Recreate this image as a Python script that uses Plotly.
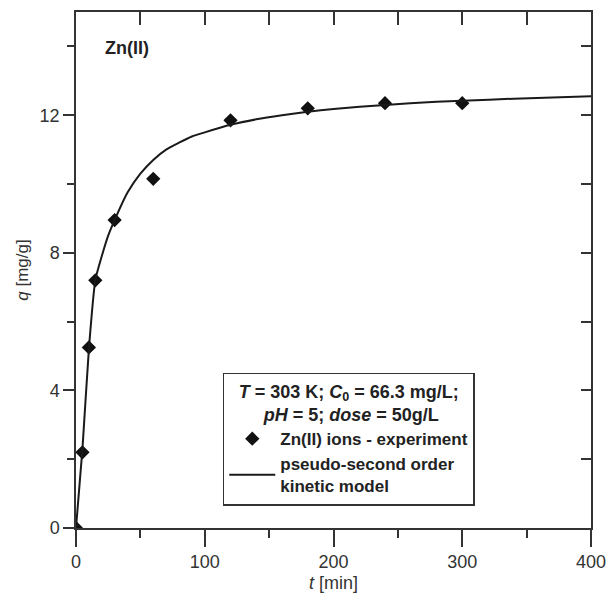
import plotly.graph_objects as go

# experimental data
t_exp = [0, 5, 10, 15, 30, 60, 120, 180, 240, 300]
q_exp = [0, 2.2, 5.25, 7.2, 8.95, 10.15, 11.85, 12.2, 12.35, 12.35]

# pseudo-second order model curve
t_model = [0, 5, 10, 15, 20, 25, 30, 40, 50, 60, 70, 80, 90, 100, 120, 140, 160, 180, 200, 240, 280, 300, 340, 400]
q_model = [0, 2.3, 5.2, 7.2, 7.9, 8.5, 8.95, 9.75, 10.3, 10.7, 11.0, 11.2, 11.38, 11.5, 11.72, 11.88, 12.0, 12.1, 12.18, 12.3, 12.39, 12.42, 12.48, 12.55]

x_ticks = [0, 100, 200, 300, 400]
y_ticks = [0, 4, 8, 12]

FONT = "Liberation Sans, Arial, Helvetica, sans-serif"
INK = "#222222"

fig = go.Figure()
fig.add_trace(go.Scatter(
    x=t_exp, y=q_exp, mode="markers",
    marker=dict(symbol="diamond", size=11, color="#111111"),
    name="Zn(II) ions - experiment",
))
fig.add_trace(go.Scatter(
    x=t_model, y=q_model, mode="lines",
    line=dict(color="#1a1a1a", width=2, shape="spline", smoothing=0.6),
    name="pseudo-second order<br>kinetic model",
))
# helper trace on mirrored axes
fig.add_trace(go.Scatter(x=[0], y=[0], xaxis="x2", yaxis="y2", mode="markers",
                         marker=dict(opacity=0), showlegend=False, hoverinfo="skip"))

NB = "&nbsp;" * 5

fig.update_layout(
    width=607, height=593,
    margin=dict(l=76, r=16, t=12, b=65),
    paper_bgcolor="white", plot_bgcolor="white",
    font=dict(family=FONT, color=INK),
    showlegend=True,
    xaxis=dict(
        range=[0, 400], tickvals=x_ticks, ticks="outside", ticklen=17, tickwidth=1.5,
        tickcolor="#333", showline=True, linecolor="#333", linewidth=1.5,
        showgrid=False, zeroline=False, tickfont=dict(size=18, color="#333"),
        minor=dict(dtick=50, ticks="outside", ticklen=8, tickwidth=1.5, tickcolor="#333"),
        title=dict(text="<i>t</i> [min]", font=dict(size=18, color="#333"), standoff=11),
        automargin=False,
    ),
    xaxis2=dict(
        range=[0, 400], overlaying="x", side="top", dtick=50, ticks="inside", ticklen=13,
        tickwidth=1.5, tickcolor="#333", showline=True, linecolor="#333", linewidth=1.5,
        showticklabels=False, showgrid=False, zeroline=False, automargin=False,
    ),
    yaxis=dict(
        range=[0, 15], tickvals=y_ticks, ticks="outside", ticklen=11, tickwidth=1.5,
        tickcolor="#333", showline=True, linecolor="#333", linewidth=1.5,
        showgrid=False, zeroline=False, tickfont=dict(size=18, color="#333"),
        minor=dict(dtick=2, ticks="outside", ticklen=7, tickwidth=1.5, tickcolor="#333"),
        title=dict(text="<i>q</i> [mg/g]", font=dict(size=17, color="#333"), standoff=7),
        automargin=False,
    ),
    yaxis2=dict(
        range=[0, 15], overlaying="y", side="right", dtick=2, ticks="inside", ticklen=10,
        tickwidth=1.5, tickcolor="#333", showline=True, linecolor="#333", linewidth=1.5,
        showticklabels=False, showgrid=False, zeroline=False, automargin=False,
    ),
    legend=dict(
        x=0.285, y=0.043, xanchor="left", yanchor="bottom",
        bgcolor="white", bordercolor="#333", borderwidth=1.5,
        font=dict(size=17, color=INK, weight="bold"),
        title=dict(
            text="<i>T</i> = 303 K; <i>C</i><sub>0</sub> = 66.3 mg/L;<br>" + NB
                 + "<i>pH</i> = 5; <i>dose</i> = 50g/L",
            side="top center", font=dict(size=18, color=INK, weight="bold"),
        ),
        itemwidth=46, tracegroupgap=2,
    ),
    annotations=[dict(
        x=0.052, y=0.93, xref="paper", yref="paper", xanchor="left", yanchor="middle",
        text="<b>Zn(II)</b>", showarrow=False, font=dict(size=18, color=INK),
    )],
)

fig.write_html(
    "out.html",
    config={"displayModeBar": False},
    post_script="document.body.style.margin='0';document.body.style.overflow='hidden';",
)
